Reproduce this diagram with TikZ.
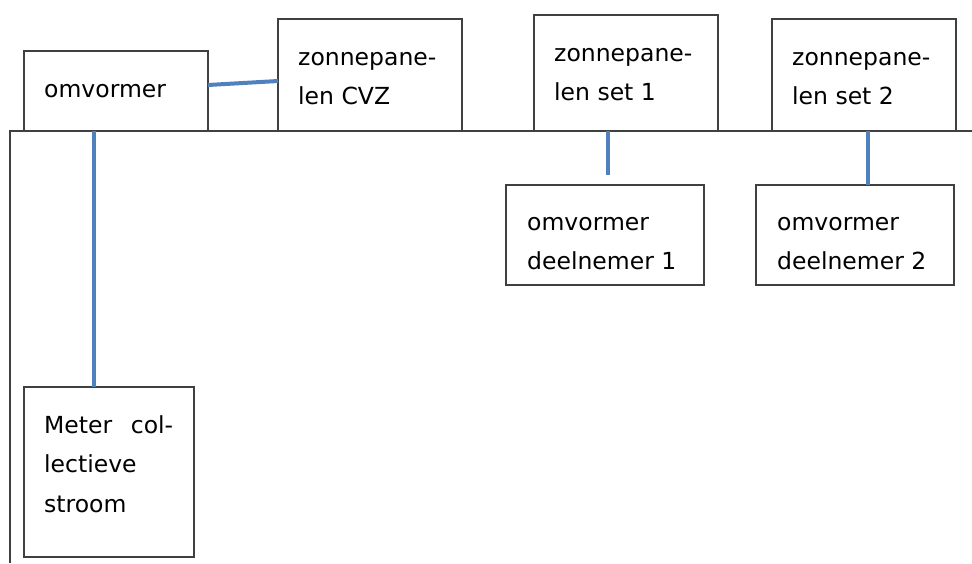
\documentclass[tikz,border=0pt]{standalone}
\usepackage{fontspec}
\setmainfont{DejaVu Sans}
\definecolor{linkblue}{HTML}{4F81BD}
\definecolor{boxline}{HTML}{404040}
\tikzset{
  box/.style={draw=boxline, line width=1.6pt, fill=white, inner sep=0pt, outer sep=0pt, anchor=north west},
  conn/.style={draw=linkblue, line width=4pt},
  frame/.style={draw=boxline, line width=1.6pt},
  txt/.style={anchor=base west, inner sep=0pt, font=\fontsize{23.5}{39.5}\selectfont}
}
\newcommand{\twoline}[2]{\parbox[t]{200pt}{#1\\#2}}
\begin{document}
\begin{tikzpicture}[x=1pt,y=-1pt]
\useasboundingbox (0,0) rectangle (972,563);
% frame lines
\draw[frame] (10,563) -- (10,131) -- (972,131);
% boxes
\node[box, minimum width=184pt, minimum height=80pt] (omv) at (24,51) {};
\node[box, minimum width=184pt, minimum height=112pt] (cvz) at (278,19) {};
\node[box, minimum width=184pt, minimum height=116pt] (set1) at (534,15) {};
\node[box, minimum width=184pt, minimum height=112pt] (set2) at (772,19) {};
\node[box, minimum width=198pt, minimum height=100pt] (deel1) at (506,185) {};
\node[box, minimum width=198pt, minimum height=100pt] (deel2) at (756,185) {};
\node[box, minimum width=170pt, minimum height=170pt] (meter) at (24,387) {};
% texts
\node[txt] (tomv) at (44,97) {omvormer};
\node[txt] (tcvz) at (298,65) {\twoline{zonnepane-}{len CVZ}};
\node[txt] (tset1) at (554,61) {\twoline{zonnepane-}{len set 1}};
\node[txt] (tset2) at (792,65) {\twoline{zonnepane-}{len set 2}};
\node[txt] (tdeel1) at (527,230) {\twoline{omvormer}{deelnemer 1}};
\node[txt] (tdeel2) at (777,230) {\twoline{omvormer}{deelnemer 2}};
\node[txt] (tmeter) at (44,433) {\parbox[t]{200pt}{\makebox[129pt][s]{Meter\hfill col-}\\lectieve\\stroom}};
% connectors
\coordinate (s1end) at (608,175);
\draw[conn] ([yshift=6pt]omv.east) -- ([yshift=-6pt]cvz.west);
\draw[conn] ([xshift=-22pt]omv.south) -- ([xshift=-22pt]omv.south |- meter.north);
\draw[conn] (s1end |- set1.south) -- (s1end);
\draw[conn] ([xshift=4pt]set2.south) -- ([xshift=4pt]set2.south |- deel2.north);
\end{tikzpicture}
\end{document}
